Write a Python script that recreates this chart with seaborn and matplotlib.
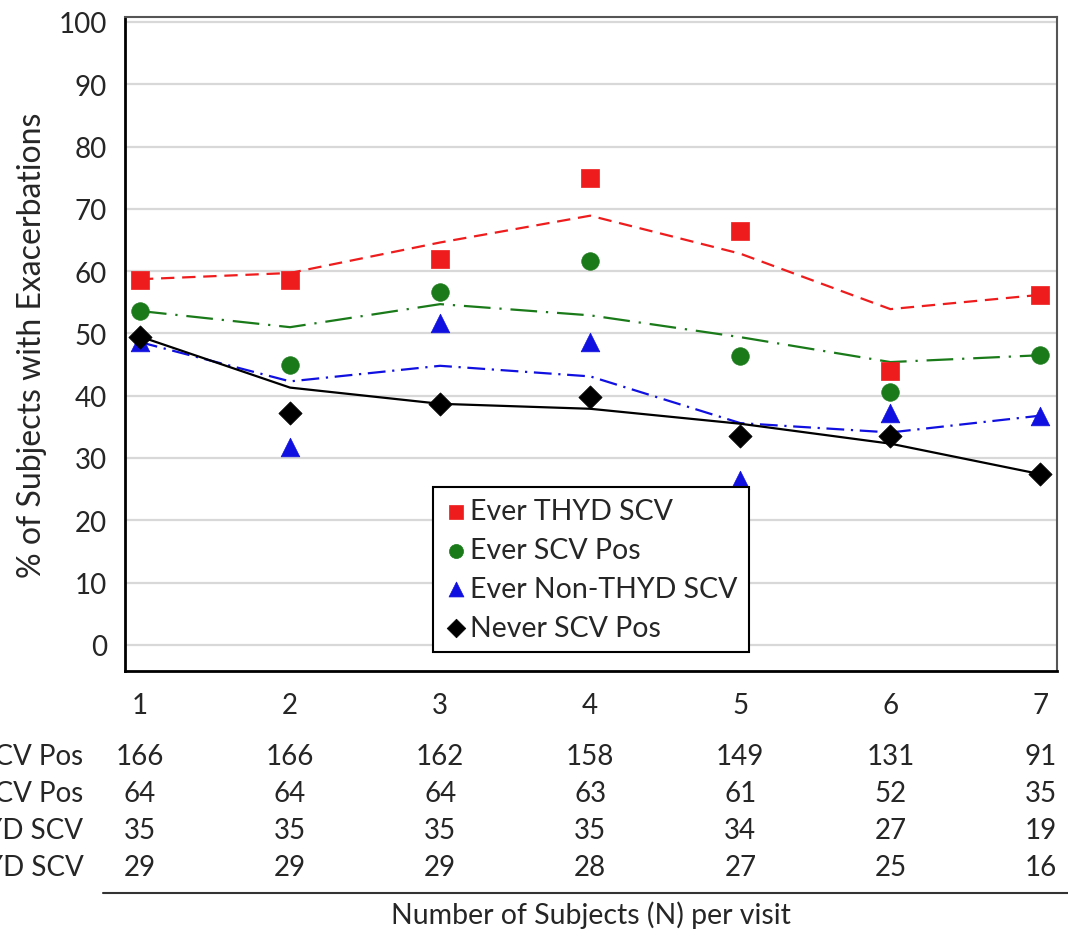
import pandas as pd
import numpy as np
import seaborn as sns
import matplotlib.pyplot as plt
import matplotlib.transforms as mtransforms

# visit number
visits = [1, 2, 3, 4, 5, 6, 7]
groups = ['Ever THYD SCV', 'Ever SCV Pos', 'Ever Non-THYD SCV', 'Never SCV Pos']

# observed % (markers)
obs_thyd = [58.6, 58.5, 62.0, 74.9, 66.5, 44.0, 56.2]
obs_scv = [53.6, 44.9, 56.7, 61.7, 46.4, 40.6, 46.5]
obs_nonthyd = [48.6, 31.7, 51.7, 48.7, 26.4, 37.3, 36.8]
obs_never = [49.5, 37.3, 38.7, 39.8, 33.6, 33.6, 27.4]

# fitted % (lines)
fit_thyd = [58.7, 59.7, 64.6, 68.9, 62.8, 53.9, 56.2]
fit_scv = [53.6, 51.0, 54.7, 52.9, 49.4, 45.4, 46.5]
fit_nonthyd = [48.6, 42.3, 44.8, 43.1, 35.6, 34.1, 36.8]
fit_never = [49.5, 41.3, 38.7, 37.9, 35.5, 32.3, 27.4]

# N per visit table
table_labels = ['Never SCV Pos', 'Ever SCV Pos', 'Ever THYD SCV', 'Ever Non-THYD SCV']
n_never = [166, 166, 162, 158, 149, 131, 91]
n_scv = [64, 64, 64, 63, 61, 52, 35]
n_thyd = [35, 35, 35, 35, 34, 27, 19]
n_nonthyd = [29, 29, 29, 28, 27, 25, 16]

obs = {'Ever THYD SCV': obs_thyd, 'Ever SCV Pos': obs_scv,
       'Ever Non-THYD SCV': obs_nonthyd, 'Never SCV Pos': obs_never}
fit = {'Ever THYD SCV': fit_thyd, 'Ever SCV Pos': fit_scv,
       'Ever Non-THYD SCV': fit_nonthyd, 'Never SCV Pos': fit_never}

rows = []
for g in groups:
    for v, o, f in zip(visits, obs[g], fit[g]):
        rows.append({'visit': v, 'group': g, 'obs': o, 'fit': f})
df = pd.DataFrame(rows)

sns.set_style('white')
plt.rcParams['font.family'] = ['Lato', 'DejaVu Sans']

colors = {'Ever THYD SCV': '#ee1c1c', 'Ever SCV Pos': '#1a7a1a',
          'Ever Non-THYD SCV': '#1010e0', 'Never SCV Pos': '#000000'}
markers = {'Ever THYD SCV': 's', 'Ever SCV Pos': 'o',
           'Ever Non-THYD SCV': '^', 'Never SCV Pos': 'D'}
sizes = {'Ever THYD SCV': 160, 'Ever SCV Pos': 160,
         'Ever Non-THYD SCV': 180, 'Never SCV Pos': 140}
dashes = {'Ever THYD SCV': (6, 3.5), 'Ever SCV Pos': (12, 4, 1, 4),
          'Ever Non-THYD SCV': (8, 3, 1, 3), 'Never SCV Pos': ''}

fig = plt.figure(figsize=(10.68, 9.37), dpi=100)
ax = fig.add_axes([0.117, 0.2828, 0.8727, 0.698])

ax.yaxis.grid(True, color='#d8d8d8', lw=1.6)
ax.set_axisbelow(True)

sns.lineplot(data=df, x='visit', y='fit', hue='group', style='group',
             palette=colors, dashes=dashes, lw=1.6, legend=False, ax=ax)
for g in groups:
    d = df[df.group == g]
    sns.scatterplot(data=d, x='visit', y='obs', color=colors[g], marker=markers[g],
                    s=sizes[g], edgecolor=colors[g], linewidth=0.5, label=g,
                    ax=ax, zorder=3)

ax.set_xlim(0.9, 7.11)
ax.set_ylim(-4.2, 100.8)
ax.set_yticks(np.arange(0, 101, 10))
ax.set_xticks(visits)
ax.tick_params(axis='both', labelsize=20, length=9, width=1.5, color='#333333', direction='out')
ax.tick_params(axis='y', pad=4)
ax.tick_params(axis='x', pad=6)
ax.set_xlabel('')
ax.set_ylabel('% of Subjects with Exacerbations', fontsize=23, labelpad=8)
for s in ['left', 'bottom']:
    ax.spines[s].set_color('black')
    ax.spines[s].set_linewidth(2)
for s in ['top', 'right']:
    ax.spines[s].set_color('#555555')
    ax.spines[s].set_linewidth(1.5)

leg = ax.legend(loc='lower center', bbox_to_anchor=(0.5, 0.029), borderaxespad=0,
                fontsize=20.5, frameon=True, fancybox=False, edgecolor='black',
                framealpha=1, handletextpad=0.1, handlelength=0.8, borderpad=0.4,
                labelspacing=0.45, markerscale=0.8)
leg.get_frame().set_linewidth(1.5)
leg.set_zorder(5)

# table of N under the plot
trans = mtransforms.blended_transform_factory(ax.transData, fig.transFigure)
row_y = [1 - 757 / 937, 1 - 794 / 937, 1 - 831 / 937, 1 - 868 / 937]
for lab, vals, yy in zip(table_labels, [n_never, n_scv, n_thyd, n_nonthyd], row_y):
    fig.text(0.078, yy, lab, ha='right', va='center', fontsize=20)
    for v, n in zip(visits, vals):
        ax.text(v, yy, str(n), transform=trans, ha='center', va='center', fontsize=20)

fig.add_artist(plt.Line2D([103 / 1068, 1.0], [1 - 894 / 937] * 2, color='#333333', lw=1.5))
fig.text(591 / 1068, 1 - 915 / 937, 'Number of Subjects (N) per visit', ha='center',
         va='center', fontsize=20.5)

fig.savefig('out.png', dpi=100)
